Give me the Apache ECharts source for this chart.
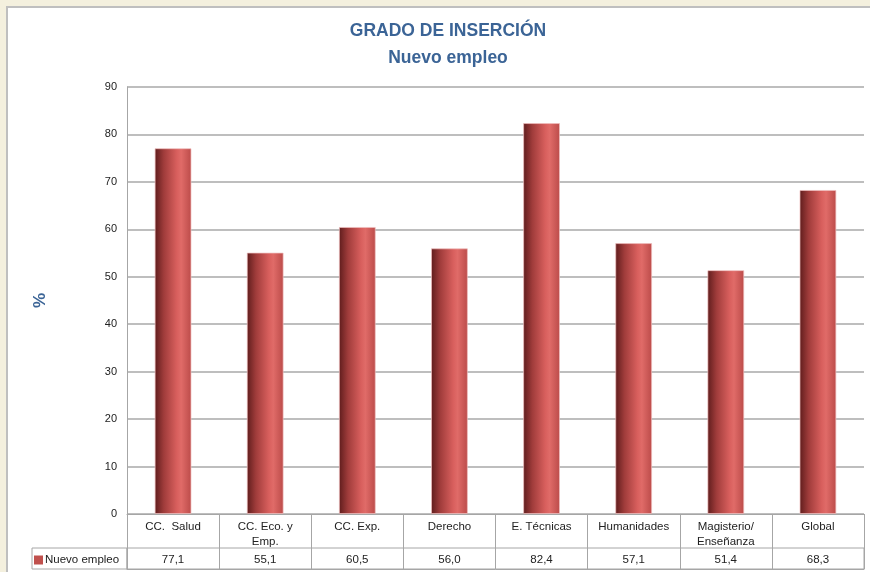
<!DOCTYPE html>
<html>
<head>
<meta charset="utf-8">
<script src="https://cdn.jsdelivr.net/npm/echarts@6/dist/echarts.min.js"></script>
<style>
  html, body { margin: 0; padding: 0; background: #f4f0de; }
  #chart { width: 870px; height: 572px; }
</style>
</head>
<body>
<div id="chart"></div>
<script>
var categories = ["CC.  Salud", "CC. Eco. y\nEmp.", "CC. Exp.", "Derecho", "E. Técnicas", "Humanidades", "Magisterio/\nEnseñanza", "Global"];
var nuevoEmpleo = [77.1, 55.1, 60.5, 56.0, 82.4, 57.1, 51.4, 68.3];
var seriesName = "Nuevo empleo";

var fmt = function (v) { return v.toFixed(1).replace(".", ","); };
var valueLabels = nuevoEmpleo.map(fmt);

var font = "Liberation Sans, Arial, sans-serif";
var blue = "#3b6496";
var line = "#a6a6a6";

var myChart = echarts.init(document.getElementById("chart"));
var option = {
  backgroundColor: "#f4f0de",
  animation: false,
  graphic: [
    {
      type: "rect",
      z: -10,
      shape: { x: 7, y: 7, width: 900, height: 600 },
      style: { fill: "#ffffff", stroke: "#bfbfbf", lineWidth: 2 }
    },
    {
      type: "rect",
      z: 10,
      shape: { x: 32, y: 548, width: 95, height: 21 },
      style: { fill: "none", stroke: line, lineWidth: 1 }
    }
  ],
  title: [
    {
      text: "GRADO DE INSERCIÓN",
      left: 443,
      textAlign: "center",
      top: 17,
      textStyle: { color: blue, fontSize: 17.5, fontWeight: "bold", fontFamily: font }
    },
    {
      text: "Nuevo empleo",
      left: 443,
      textAlign: "center",
      top: 44,
      textStyle: { color: blue, fontSize: 17.5, fontWeight: "bold", fontFamily: font }
    }
  ],
  legend: {
    left: 34,
    top: 554,
    padding: 0,
    icon: "rect",
    itemWidth: 9,
    itemHeight: 9,
    textStyle: { fontSize: 11.5, color: "#222", fontFamily: font, padding: [0, 0, 0, -3] },
    data: [{ name: seriesName, itemStyle: { color: "#c0504d", borderWidth: 0 } }]
  },
  grid: [
    { left: 127, right: 6, top: 87, bottom: 58 },
    { left: 127, right: 6, top: 548, height: 21, show: true, borderColor: line, borderWidth: 1 }
  ],
  xAxis: [
    {
      type: "category",
      gridIndex: 0,
      data: categories,
      axisLine: { lineStyle: { color: line, width: 1 } },
      axisTick: { show: true, interval: 0, length: 34, lineStyle: { color: line } },
      axisLabel: {
        interval: 0,
        margin: 5,
        color: "#222",
        fontSize: 11.5,
        lineHeight: 15,
        verticalAlign: "top",
        fontFamily: font
      }
    },
    {
      type: "category",
      gridIndex: 1,
      position: "bottom",
      data: valueLabels,
      axisLine: { lineStyle: { color: line, width: 1 } },
      axisTick: { show: true, interval: 0, inside: true, length: 21, lineStyle: { color: line } },
      axisLabel: {
        interval: 0,
        inside: true,
        margin: 3,
        color: "#222",
        fontSize: 11.5,
        verticalAlign: "bottom",
        fontFamily: font
      }
    }
  ],
  yAxis: [
    {
      type: "value",
      gridIndex: 0,
      min: 0,
      max: 90,
      interval: 10,
      name: "%",
      nameLocation: "middle",
      nameRotate: 90,
      nameGap: 78,
      nameTextStyle: { color: blue, fontSize: 17, fontWeight: "bold", fontFamily: font },
      axisLine: { show: true, lineStyle: { color: line, width: 1 } },
      axisTick: { show: false },
      axisLabel: { color: "#222", fontSize: 11, margin: 10, fontFamily: font },
      splitLine: { lineStyle: { color: "#a9a9a9", width: 1.5 } }
    },
    {
      type: "value",
      gridIndex: 1,
      show: false
    }
  ],
  series: [
    {
      name: seriesName,
      type: "bar",
      xAxisIndex: 0,
      yAxisIndex: 0,
      barWidth: "40%",
      data: nuevoEmpleo,
      itemStyle: {
        borderColor: "rgba(240,190,190,0.7)",
        borderWidth: 1,
        color: new echarts.graphic.LinearGradient(0, 0, 1, 0, [
          { offset: 0, color: "#5e1c1c" },
          { offset: 0.25, color: "#a03c3b" },
          { offset: 0.6, color: "#d85f5d" },
          { offset: 0.72, color: "#e06b68" },
          { offset: 1, color: "#bb4b49" }
        ])
      }
    }
  ]
};

myChart.setOption(option);
</script>
</body>
</html>
